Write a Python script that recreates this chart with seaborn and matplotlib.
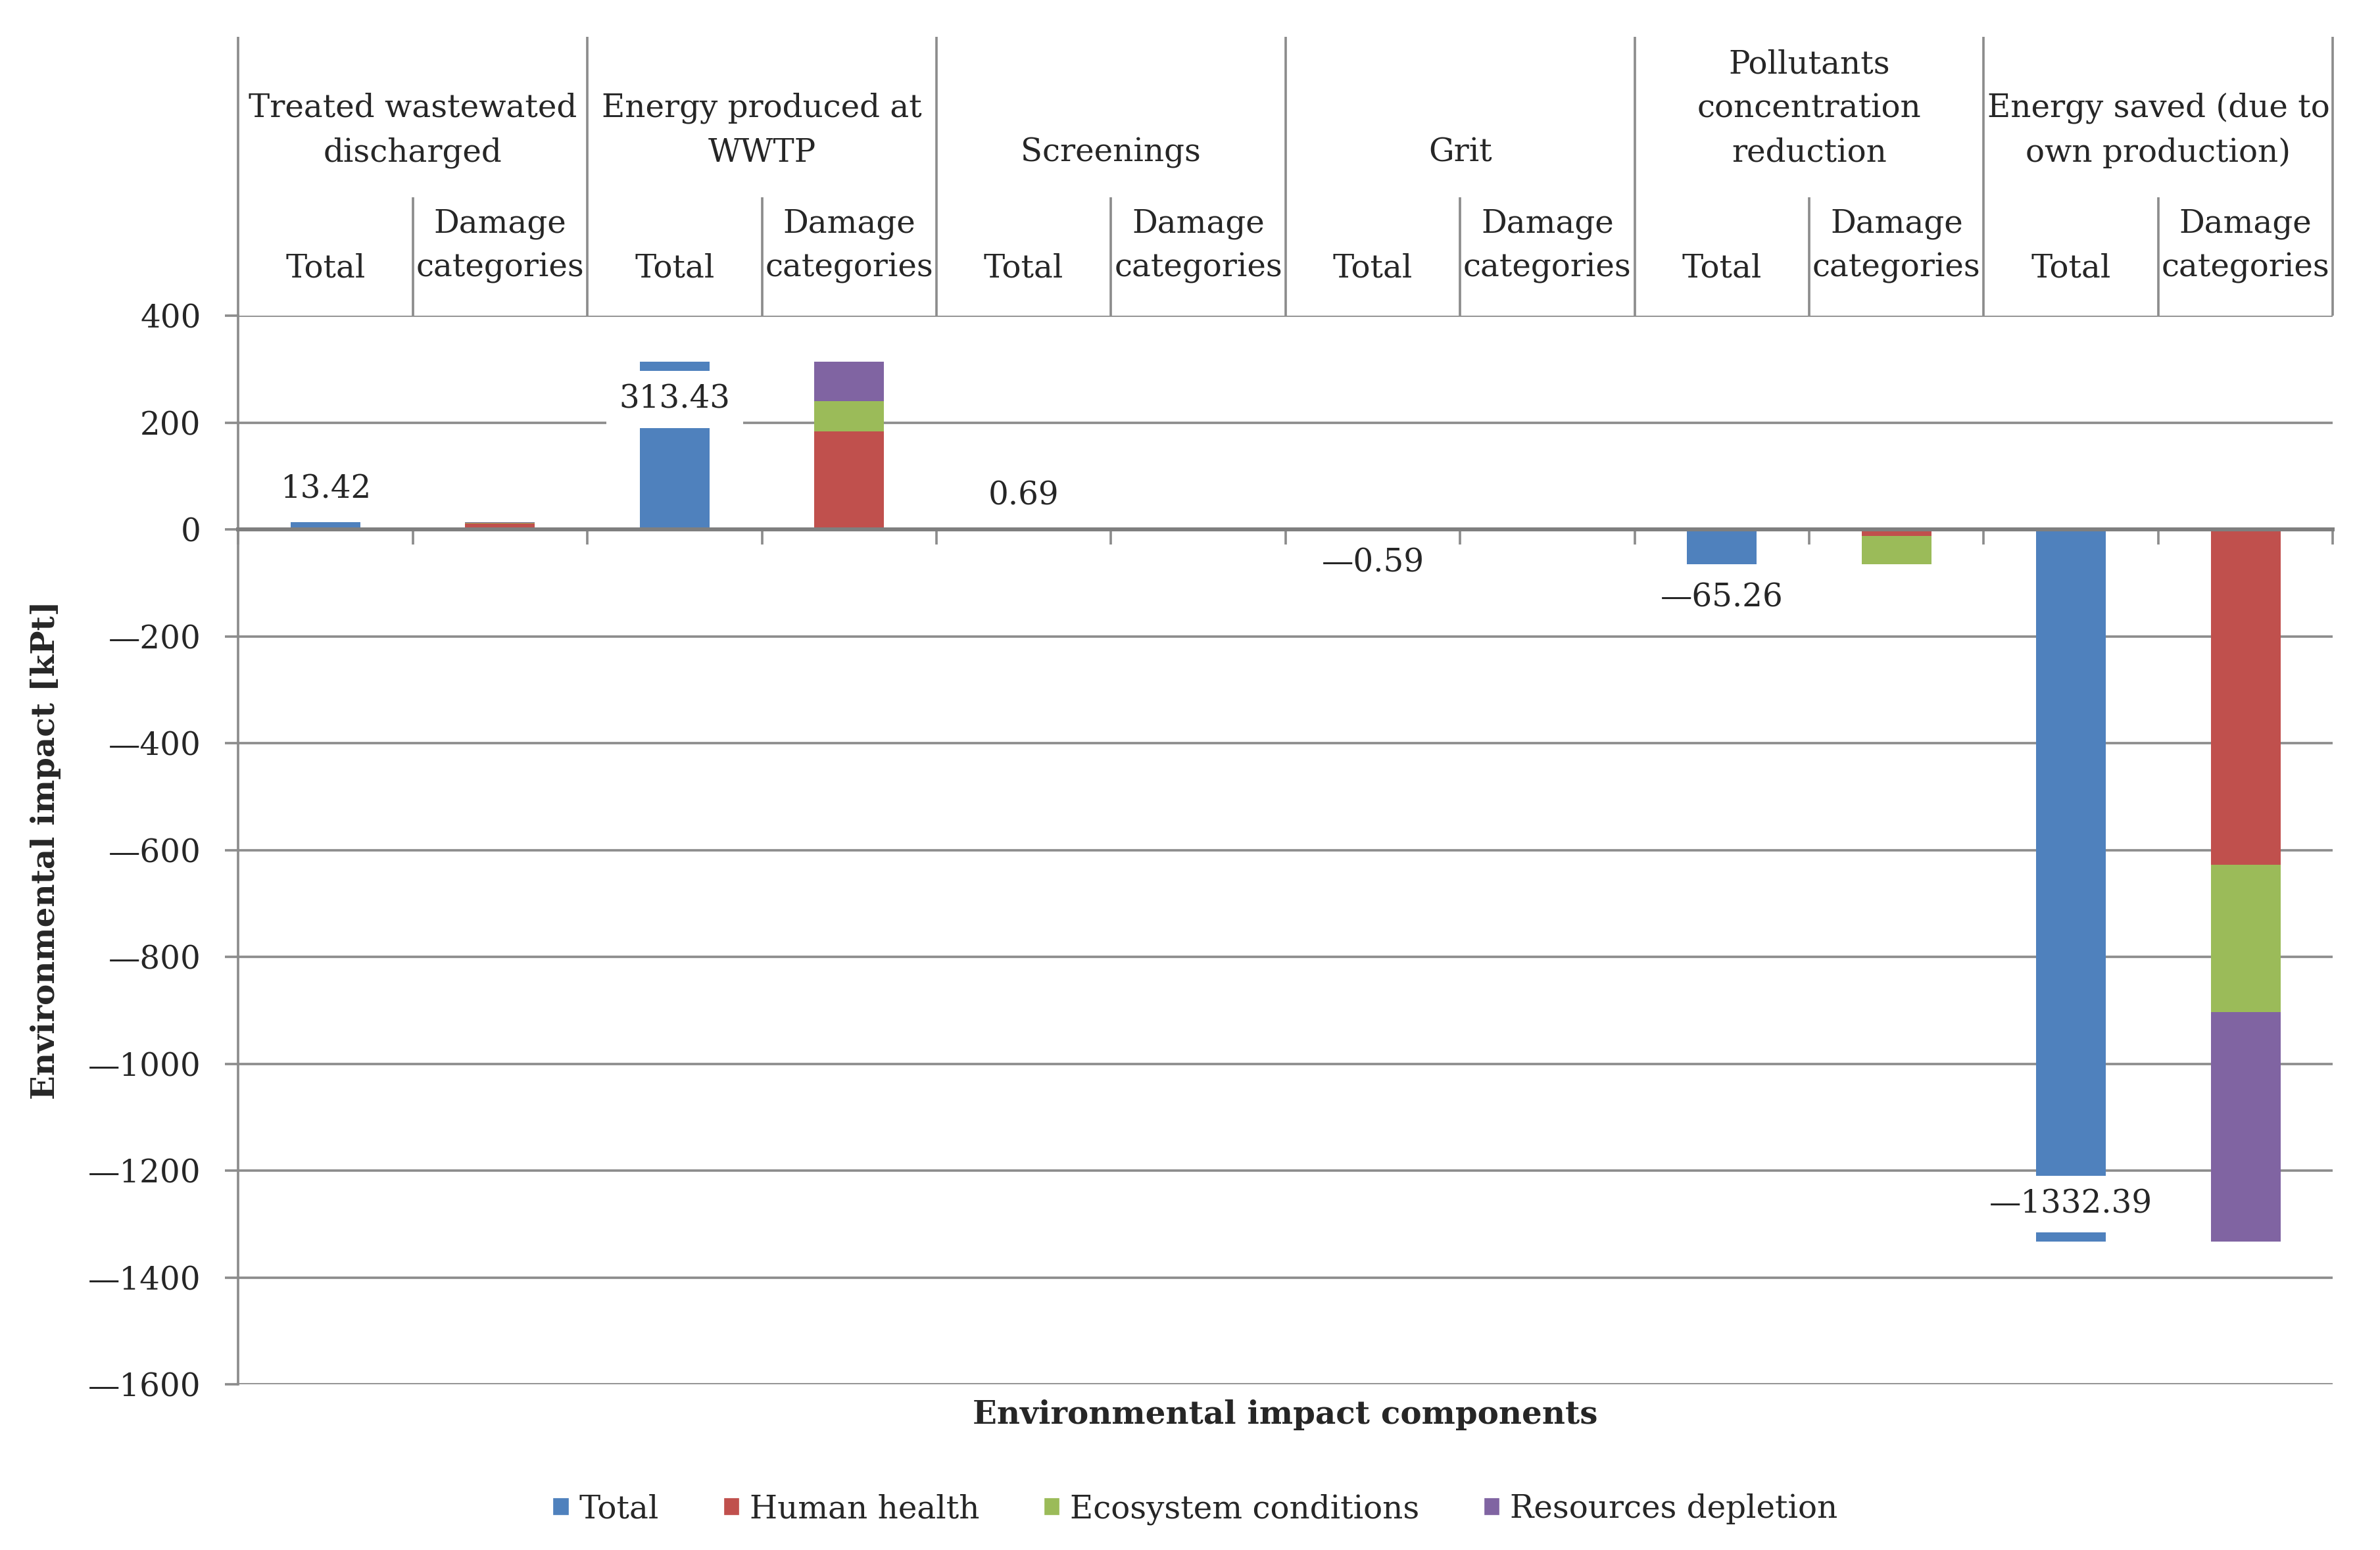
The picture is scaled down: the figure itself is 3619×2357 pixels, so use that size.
"""
Environmental impact of WWTP components: totals vs damage categories.
"""

import numpy as np
import pandas as pd
import seaborn as sns
import matplotlib.pyplot as plt
import matplotlib.transforms as mtransforms
from matplotlib.patches import Patch


# -------- Data -------- #

groups = [
    "Treated wastewated\ndischarged",
    "Energy produced at\nWWTP",
    "Screenings",
    "Grit",
    "Pollutants\nconcentration\nreduction",
    "Energy saved (due to\nown production)",
]
total = [13.42, 313.43, 0.69, -0.59, -65.26, -1332.39]
human_health = [11.8, 183.0, 0.55, -0.45, -12.0, -628.0]
ecosystem = [1.2, 57.0, 0.09, -0.09, -53.26, -275.0]
resources = [0.42, 73.43, 0.05, -0.05, 0.0, -429.39]

series_names = ["Total", "Human health", "Ecosystem conditions", "Resources depletion"]
series_colors = ["#4F81BD", "#C0504D", "#9BBB59", "#8064A2"]
y_ticks = list(range(-1600, 401, 200))

GRID = "#8c8c8c"

sns.set_style("white")
plt.rcParams["font.family"] = ["DejaVu Serif"]
plt.rcParams["font.size"] = 14.5

# two slots per group: total bar and stacked damage bar
slots = []
for i in range(len(groups)):
    slots += [f"{i}-total", f"{i}-damage"]

total_df = pd.DataFrame({"slot": slots[0::2], "value": total})
hh = np.array(human_health)
ec = np.array(ecosystem)
rd = np.array(resources)
stack_df = pd.DataFrame({"slot": slots[1::2], "hh": hh, "hh_ec": hh + ec, "all": hh + ec + rd})

# -------- Figure -------- #

fig = plt.figure(figsize=(3619 / 240, 2357 / 240), dpi=240)
ax = fig.add_axes([0.1001, 0.1068, 0.8801, 0.6895])

bar_kw = dict(order=slots, width=0.4, saturation=1, errorbar=None, linewidth=0, ax=ax)
sns.barplot(data=total_df, x="slot", y="value", color=series_colors[0], **bar_kw)
for col, c in [("all", series_colors[3]), ("hh_ec", series_colors[2]), ("hh", series_colors[1])]:
    sns.barplot(data=stack_df, x="slot", y=col, color=c, **bar_kw)

# value labels on the total bars
for i, v in enumerate(total):
    label = f"\u2014{abs(v):.2f}" if v < 0 else f"{v:.2f}"
    if abs(v) > 300:
        ax.text(2 * i, v - np.sign(v) * 70, label, ha="center", va="center",
                bbox=dict(facecolor="white", edgecolor="none", pad=6), zorder=5)
    else:
        ax.text(2 * i, v + (1 if v >= 0 else -1) * 62, label, ha="center", va="center", zorder=5)

# axes styling
ax.set_xlim(-0.5, len(slots) - 0.5)
ax.set_ylim(-1600, 400)
ax.set_yticks(y_ticks)
ax.set_yticklabels([f"\u2014{abs(t)}" if t < 0 else str(t) for t in y_ticks])
ax.set_xticks(np.arange(-0.5, len(slots)))
ax.set_xticklabels([])
ax.set_xlabel("")
ax.set_ylabel("")
ax.grid(axis="y", color=GRID, lw=1.1)
ax.set_axisbelow(True)

for side in ["top", "right"]:
    ax.spines[side].set_visible(False)
ax.spines["bottom"].set_position(("data", 0))
ax.spines["bottom"].set_color("#7f7f7f")
ax.spines["bottom"].set_linewidth(1.8)
ax.spines["left"].set_color(GRID)
ax.spines["left"].set_linewidth(1.1)
ax.tick_params(axis="y", direction="out", length=6, width=1.1, color=GRID, pad=11, left=True)
ax.tick_params(axis="x", direction="out", length=7, width=1.1, color=GRID, bottom=True)

# -------- Header table above the plot -------- #

trans = mtransforms.blended_transform_factory(ax.transData, ax.transAxes)
for b in np.arange(-0.5, len(slots), 2):
    ax.vlines(b, 1.0, 1.261, transform=trans, clip_on=False, color=GRID, lw=1.1)
for b in np.arange(0.5, len(slots), 2):
    ax.vlines(b, 1.0, 1.111, transform=trans, clip_on=False, color=GRID, lw=1.1)

for i, g in enumerate(groups):
    ax.text(2 * i + 0.5, 1.138, g, transform=trans, ha="center", va="bottom",
            multialignment="center", linespacing=1.55)
    ax.text(2 * i, 1.03, "Total", transform=trans, ha="center", va="bottom")
    ax.text(2 * i + 1, 1.03, "Damage\ncategories", transform=trans, ha="center", va="bottom",
            multialignment="center", linespacing=1.55)

# -------- Labels and legend -------- #

fig.text(0.540, 0.0872, "Environmental impact components", ha="center", va="center", fontweight="bold")
fig.text(0.0191, 0.4515, "Environmental impact [kPt]", rotation=90, ha="center", va="center", fontweight="bold")

handles = [Patch(facecolor=c, label=n) for n, c in zip(series_names, series_colors)]
fig.legend(handles=handles, loc="center", bbox_to_anchor=(0.502, 0.0264), ncol=4, frameon=False,
           handlelength=0.55, handleheight=0.55, handletextpad=0.3, columnspacing=2.0)

fig.savefig("out.png", dpi=240)
plt.close(fig)
